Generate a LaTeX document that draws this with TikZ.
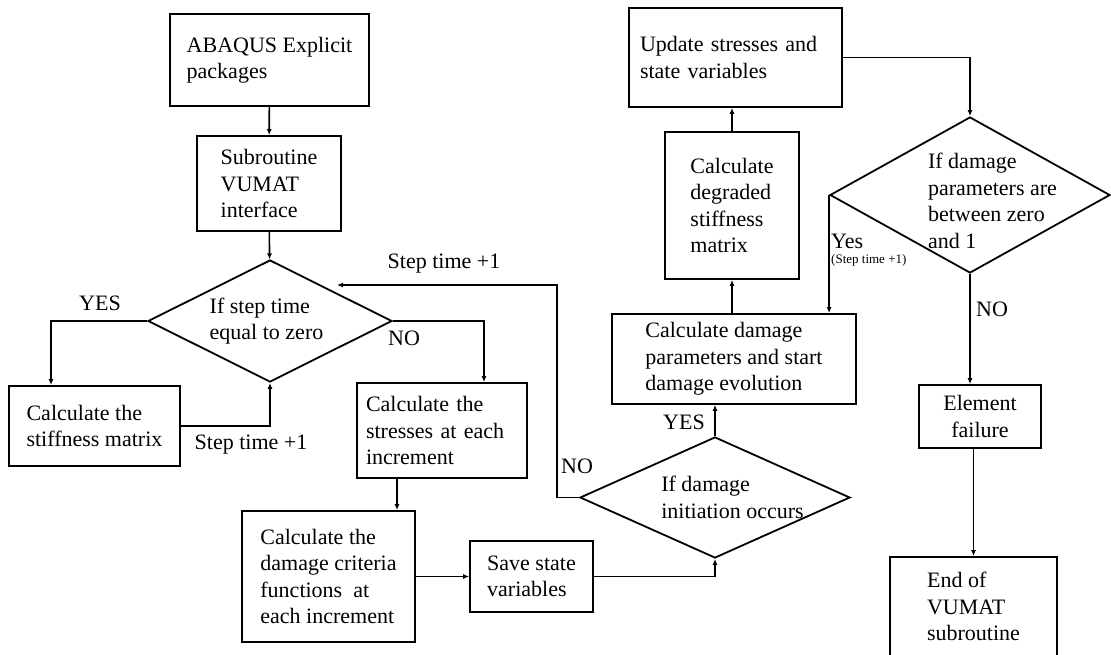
\documentclass[tikz,border=0pt]{standalone}
\usepackage{fontspec}
\setmainfont{Liberation Serif}
\usetikzlibrary{shapes.geometric,arrows.meta,calc}
\begin{document}
\begin{tikzpicture}[x=1pt,y=-1pt,
  every node/.style={font=\fontsize{22}{26.5}\selectfont},
  box/.style={draw, line width=1.8pt, inner sep=0pt, align=left},
  dia/.style={draw, diamond, line width=1.8pt, inner sep=0pt},
  lbl/.style={inner sep=0pt},
  arr/.style={line width=1.6pt, -{Latex[length=6pt,width=5pt]}}]
\useasboundingbox (0,0) rectangle (1111,654);
% boxes
\node[box, minimum width=199pt, minimum height=92pt] (abaqus) at (269.5,60) {ABAQUS Explicit\\packages};
\node[box, minimum width=144pt, minimum height=95pt] (sub) at (269,183.5) {Subroutine\\VUMAT\\interface};
\node[box, minimum width=171pt, minimum height=80pt] (stiff) at (94.5,426) {Calculate the\\stiffness matrix};
\node[box, minimum width=170pt, minimum height=95pt, text width=152pt] (stress) at (442,430.5) {Calculate the\\stresses at each\\increment};
\node[box, minimum width=173pt, minimum height=131pt] (crit) at (328.5,576.5) {Calculate the\\damage criteria\\functions~ at\\each increment};
\node[box, minimum width=123pt, minimum height=71pt] (save) at (531.5,576.5) {Save state\\variables};
\node[box, minimum width=244pt, minimum height=90pt] (dparam) at (734,359) {Calculate damage\\parameters and start\\damage evolution};
\node[box, minimum width=134pt, minimum height=147pt] (degr) at (732,205.5) {Calculate\\degraded\\stiffness\\matrix};
\node[box, minimum width=213pt, minimum height=99pt, text width=191pt] (update) at (735.5,57.5) {Update stresses and\\state variables};
\node[box, minimum width=122pt, minimum height=63pt, align=center] (elem) at (980,416.5) {Element\\failure};
\node[box, minimum width=167pt, minimum height=99pt] (fin) at (973.5,606.5) {End of\\VUMAT\\subroutine};
% diamonds
\node[dia, minimum width=244pt, minimum height=122pt] (d1) at (270,321) {};
\node[lbl, align=left] (d1t) at ([xshift=-3.5pt]d1.center) {If step time\\equal to zero};
\node[dia, minimum width=270pt, minimum height=121pt] (d2) at (715,497.5) {};
\node[lbl, align=left] (d2t) at ([xshift=17.5pt]d2.center) {If damage\\initiation occurs};
\node[dia, minimum width=280pt, minimum height=156pt] (d3) at (970,195) {};
\node[lbl, align=left] (d3t) at ([xshift=22.5pt,yshift=-6pt]d3.center) {If damage\\parameters are\\between zero\\and 1};
% connector labels
\node[lbl] (yes1) at (100,303) {YES};
\node[lbl] (no1) at (404,338) {NO};
\node[lbl] (st1) at (251,445) {Step time +1};
\node[lbl] (st2) at (444,264) {Step time +1};
\node[lbl] (no2) at (577,466) {NO};
\node[lbl] (yes2) at (684,422) {YES};
\node[lbl, anchor=west] (yes3) at (831,241) {Yes};
\node[lbl, anchor=west, font=\fontsize{13}{15}\selectfont] (st3) at (831,260) {(Step time +1)};
\node[lbl] (no3) at (992,309) {NO};
% coordinates
\coordinate (c1) at (557,285);
\coordinate (c2) at (337,285);
% connectors
\draw[arr] (abaqus) -- (sub);
\draw[arr] (sub) -- (d1);
\draw[arr] (d1.west) -| ([xshift=-43.5pt]stiff.north);
\draw[arr] (stiff.east) -| (d1.south);
\draw[arr] (d1.east) -| ([xshift=42pt]stress.north);
\draw[arr] ([xshift=-45pt]stress.south) -- ([xshift=-45pt]stress.south |- crit.north);
\draw[arr] (crit.east) -- (save.west);
\draw[arr] (save.east) -| (d2.south);
\draw[arr] (d2.west) -| (c1) -- (c2);
\draw[arr] (d2.north) -- (d2.north |- dparam.south);
\draw[arr] (degr.south |- dparam.north) -- (degr.south);
\draw[arr] (degr.north) -- (degr.north |- update.south);
\draw[arr] (update.east) -| (d3.north);
\draw[arr] (d3.west) -- (d3.west |- dparam.north);
\draw[arr] (d3.south) -- (d3.south |- elem.north);
\draw[arr] (fin.north |- elem.south) -- (fin.north);
\end{tikzpicture}
\end{document}
